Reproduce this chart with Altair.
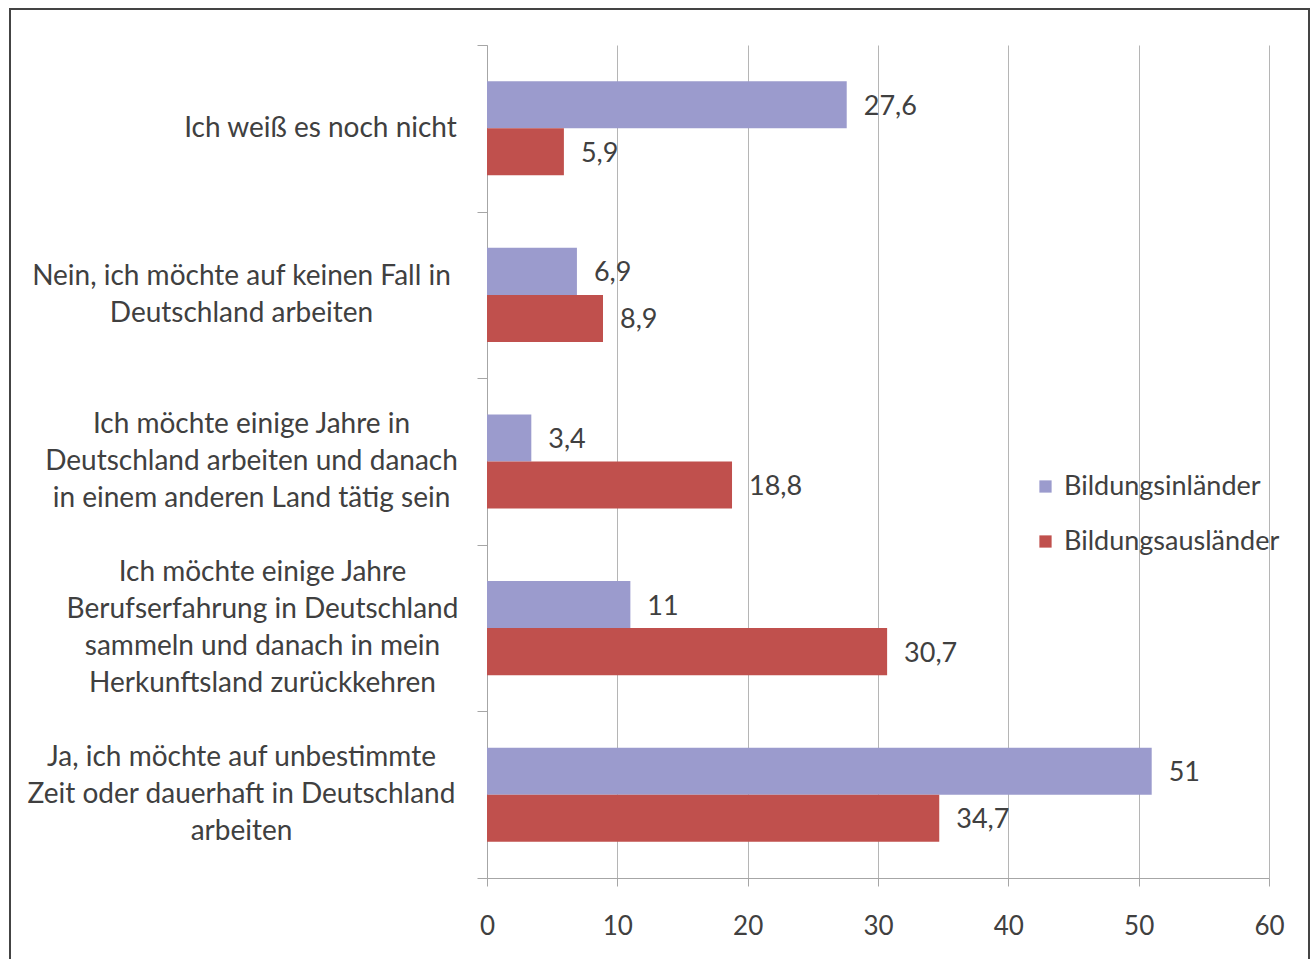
import altair as alt
import pandas as pd

categories = [
    "Ich weiß es noch nicht",
    "Nein, ich möchte auf keinen Fall in|Deutschland arbeiten",
    "Ich möchte einige Jahre in|Deutschland arbeiten und danach|in einem anderen Land tätig sein",
    "Ich möchte einige Jahre|Berufserfahrung in Deutschland|sammeln und danach in mein|Herkunftsland zurückkehren",
    "Ja, ich möchte auf unbestimmte|Zeit oder dauerhaft in Deutschland|arbeiten",
]
series = ["Bildungsinländer", "Bildungsausländer"]
inlaender = [27.6, 6.9, 3.4, 11, 51]
auslaender = [5.9, 8.9, 18.8, 30.7, 34.7]
x_ticks = [0, 10, 20, 30, 40, 50, 60]
colors = ["#9b9bcd", "#c0504d"]

# label horizontal padding per category (layout only)
label_pad = [157, 236, 226, 215, 236]
LINE_H = 37


def fmt(v):
    return (str(v) if v != int(v) else str(int(v))).replace(".", ",")


rows = []
for c, a, b in zip(categories, inlaender, auslaender):
    rows.append({"cat": c, "series": series[0], "value": a, "label": fmt(a)})
    rows.append({"cat": c, "series": series[1], "value": b, "label": fmt(b)})
df = pd.DataFrame(rows)

cat_list = "[" + ",".join("'" + c + "'" for c in categories) + "]"
pad_list = "[" + ",".join(str(p) for p in label_pad) + "]"
pad_expr = f"{pad_list}[indexof({cat_list}, datum.value)]"
off_expr = f"-(length(split(datum.value, '|')) - 1) * {LINE_H / 2}"

FONT = "Lato"
TXT = "#404040"

y_enc = alt.Y(
    "cat:N",
    sort=categories,
    scale=alt.Scale(paddingInner=0, paddingOuter=0),
    axis=alt.Axis(
        title=None,
        domainColor="#a6a6a6",
        tickColor="#a6a6a6",
        tickSize=10,
        tickBand="extent",
        labelExpr="split(datum.label, '|')",
        labelAlign="center",
        labelBaseline="middle",
        labelPadding=alt.ExprRef(pad_expr),
        labelOffset=alt.ExprRef(off_expr),
        labelLineHeight=LINE_H,
        labelFontSize=28,
        labelFont=FONT,
        labelColor=TXT,
        labelLimit=0,
        grid=False,
    ),
)
yoff_enc = alt.YOffset(
    "series:N", sort=series, scale=alt.Scale(paddingOuter=0.77, paddingInner=0)
)
x_enc = alt.X(
    "value:Q",
    scale=alt.Scale(domain=[0, 60], nice=False),
    axis=alt.Axis(
        title=None,
        values=x_ticks,
        grid=True,
        gridColor="#b5b5b5",
        domainColor="#a6a6a6",
        tickColor="#a6a6a6",
        tickSize=8,
        labelPadding=27,
        labelFlush=False,
        labelFontSize=26,
        labelFont=FONT,
        labelColor=TXT,
    ),
)

base = alt.Chart(df).encode(y=y_enc, yOffset=yoff_enc, x=x_enc)

bars = base.mark_bar().encode(
    color=alt.Color(
        "series:N",
        sort=series,
        scale=alt.Scale(domain=series, range=colors),
        legend=alt.Legend(
            title=None,
            orient="none",
            legendX=545,
            legendY=428,
            symbolType="square",
            symbolSize=150,
            symbolStrokeWidth=0,
            labelFontSize=27,
            labelFont=FONT,
            labelColor=TXT,
            labelOffset=5,
            labelLimit=0,
            rowPadding=27,
        ),
    )
)

text = base.mark_text(
    align="left", baseline="middle", dx=17, dy=2, fontSize=27, font=FONT, color=TXT
).encode(text="label:N")

frame = (
    alt.Chart(alt.Data(values=[{}]))
    .mark_rect(fillOpacity=0, stroke="#444444", strokeWidth=2)
    .encode(
        x=alt.value(-477), x2=alt.value(822), y=alt.value(-36), y2=alt.value(1000)
    )
)

chart = (
    alt.layer(bars, text, frame)
    .properties(
        width=782,
        height=833,
        padding={"left": 487, "top": 45, "right": 47, "bottom": 81},
        autosize=alt.AutoSizeParams(type="none"),
        background="white",
    )
    .configure_view(stroke=None)
)

chart.save("out.html", embed_options={"renderer": "svg", "actions": False})
